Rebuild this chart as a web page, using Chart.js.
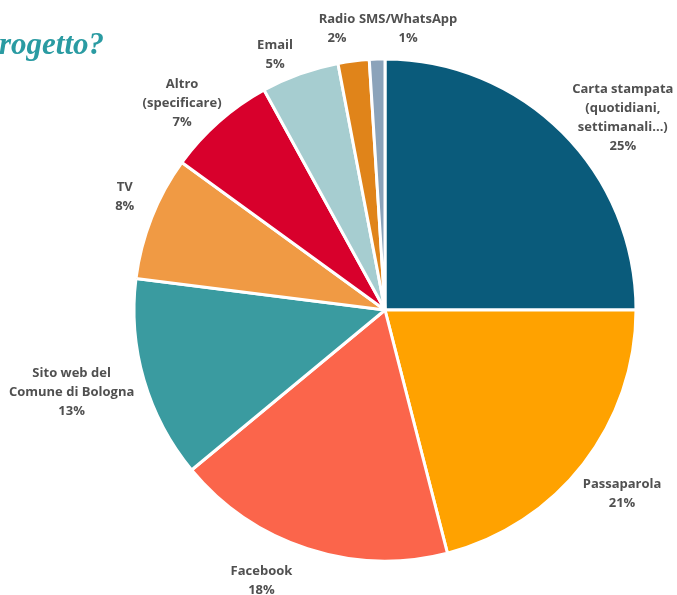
<!DOCTYPE html>
<html>
<head>
<meta charset="utf-8">
<script src="https://cdn.jsdelivr.net/npm/chart.js@4/dist/chart.umd.min.js"></script>
<style>
  html, body { margin: 0; padding: 0; background: #ffffff; }
  #wrap { position: relative; width: 677px; height: 595px; }
</style>
</head>
<body>
<div id="wrap"><canvas id="c" width="677" height="595"></canvas></div>
<script>
// Canali attraverso cui si è conosciuto il progetto (quote percentuali)
const categories = [
  ['Carta stampata', '(quotidiani,', 'settimanali...)'],
  ['Passaparola'],
  ['Facebook'],
  ['Sito web del', 'Comune di Bologna'],
  ['TV'],
  ['Altro', '(specificare)'],
  ['Email'],
  ['Radio'],
  ['SMS/WhatsApp']
];
const shares = [25, 21, 18, 13, 8, 7, 5, 2, 1];
const sliceColors = ['#0a5b7b', '#ffa200', '#fb654b', '#3a9ba0', '#f09a44', '#d8002c', '#a6cdd0', '#e0841a', '#8ba3ba'];
const titleText = 'rogetto?';

// Label placement around the pie: angular shift (degrees) and distance beyond the rim
const labelShift = [6, 0, 6.5, 1.5, 2, -3, -3.5, -2.5, 6.5];
const labelGap = [55, 49, 47, 73, 33, 39, 27, 34, 31];

const outsideLabels = {
  id: 'outsideLabels',
  afterDatasetsDraw(chart) {
    const ctx = chart.ctx;
    const meta = chart.getDatasetMeta(0);
    ctx.save();
    ctx.fillStyle = '#505050';
    ctx.font = 'bold 13px "Open Sans", sans-serif';
    ctx.textAlign = 'center';
    ctx.textBaseline = 'middle';
    const lh = 19;
    meta.data.forEach((arc, i) => {
      const mid = (arc.startAngle + arc.endAngle) / 2 + labelShift[i] * Math.PI / 180;
      const r = arc.outerRadius + labelGap[i];
      const cx = arc.x + Math.cos(mid) * r;
      const cy = arc.y + Math.sin(mid) * r;
      const lines = categories[i].concat([shares[i] + '%']);
      const top = cy - (lines.length - 1) * lh / 2;
      lines.forEach((t, k) => ctx.fillText(t, cx, top + k * lh));
    });
    ctx.restore();
  }
};

const titlePlugin = {
  id: 'titleText',
  afterDraw(chart) {
    const ctx = chart.ctx;
    ctx.save();
    ctx.fillStyle = '#2a9ba2';
    ctx.font = 'italic bold 31px "Liberation Serif", "DejaVu Serif", serif';
    ctx.textAlign = 'left';
    ctx.textBaseline = 'alphabetic';
    ctx.fillText(titleText, -1, 54);
    ctx.restore();
  }
};

new Chart(document.getElementById('c'), {
  type: 'pie',
  data: {
    labels: categories.map(l => l.join(' ')),
    datasets: [{
      data: shares,
      backgroundColor: sliceColors,
      borderColor: '#ffffff',
      borderWidth: 3
    }]
  },
  options: {
    responsive: false,
    animation: false,
    radius: 251,
    layout: { padding: { left: 135, right: 42, top: 60, bottom: 35 } },
    plugins: {
      legend: { display: false },
      tooltip: { enabled: false }
    }
  },
  plugins: [outsideLabels, titlePlugin]
});
</script>
</body>
</html>
